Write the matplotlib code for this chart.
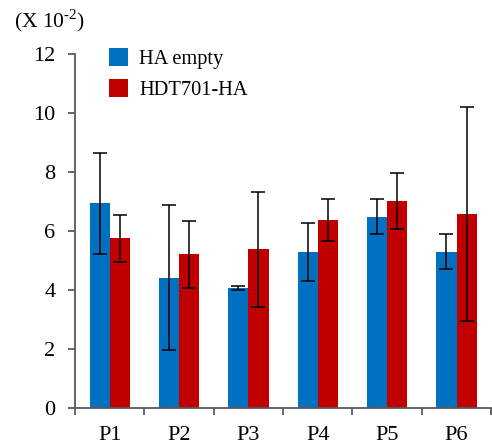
import matplotlib
matplotlib.use("Agg")
import matplotlib.pyplot as plt
import numpy as np

categories = ["P1", "P2", "P3", "P4", "P5", "P6"]
ha_empty = [6.94, 4.42, 4.06, 5.30, 6.49, 5.30]
ha_empty_err = [1.72, 2.47, 0.07, 0.98, 0.58, 0.60]
hdt701 = [5.75, 5.21, 5.38, 6.37, 7.02, 6.57]
hdt701_err = [0.80, 1.14, 1.95, 0.70, 0.96, 3.63]
y_ticks = [0, 2, 4, 6, 8, 10, 12]

plt.rcParams['font.family'] = ['Liberation Serif', 'DejaVu Serif']
plt.rcParams['mathtext.fontset'] = 'custom'
plt.rcParams['mathtext.rm'] = 'Liberation Serif'

blue = "#0070C0"
red = "#C00000"
axis_col = "#595959"

fig = plt.figure(figsize=(4.92, 4.45), dpi=100)
ax = fig.add_axes([0.1524, 0.0831, 0.846, 0.7956])

x = np.arange(len(categories))
w = 0.29
err_kw = dict(ecolor="black", elinewidth=1.1, capsize=4.8, capthick=1.1)
ax.bar(x - w / 2, ha_empty, w, yerr=ha_empty_err, color=blue, label="HA empty",
       error_kw=err_kw)
ax.bar(x + w / 2, hdt701, w, yerr=hdt701_err, color=red, label="HDT701-HA",
       error_kw=err_kw)

ax.set_xlim(-0.5, len(categories) - 0.5)
ax.set_ylim(0, 12)
ax.set_yticks(y_ticks)
ax.set_xticks(x)
ax.set_xticklabels(categories)
ax.set_xticks(np.arange(len(categories) + 1) - 0.5, minor=True)
ax.tick_params(axis="x", which="major", length=0, labelsize=16, pad=13)
ax.tick_params(axis="x", which="minor", length=5, width=1.3, color=axis_col, direction="out")
ax.tick_params(axis="y", length=5, width=1.3, color=axis_col, labelsize=16, pad=9)

for s in ["top", "right"]:
    ax.spines[s].set_visible(False)
for s in ["left", "bottom"]:
    ax.spines[s].set_color(axis_col)
    ax.spines[s].set_linewidth(1.3)

fig.text(0.028, 0.953, r"(X 10$^{\text{-}2}$)", fontsize=15.5, va="center")

ax.legend(loc="upper left", bbox_to_anchor=(0.037, 1.07), frameon=False, fontsize=14.7,
          handlelength=0.95, handleheight=1.0, handletextpad=0.55, labelspacing=0.5)

fig.savefig("out.png", dpi=100)
